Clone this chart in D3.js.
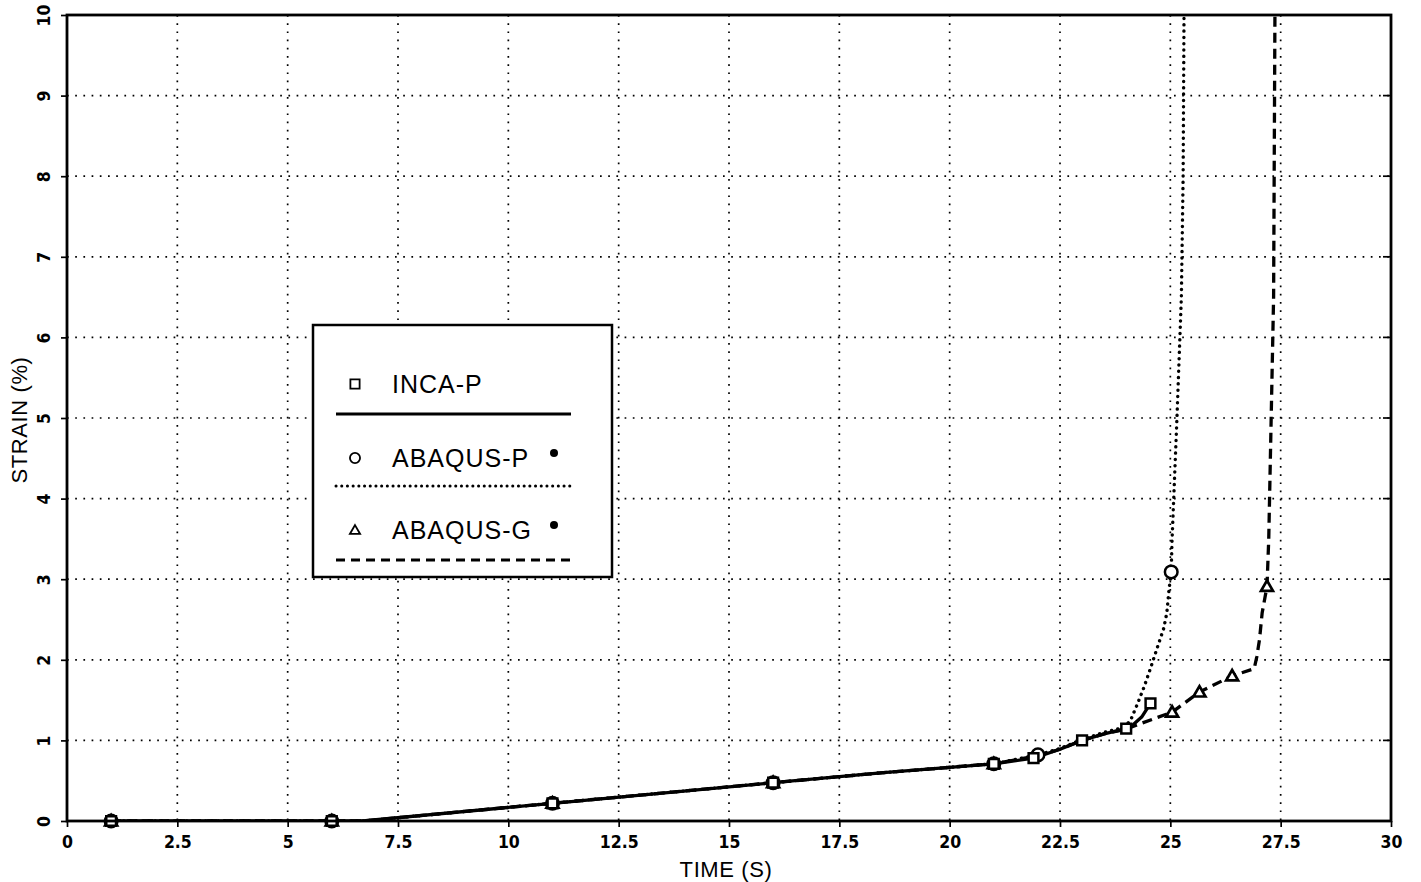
<!DOCTYPE html>
<html>
<head>
<meta charset="utf-8">
<script src="https://cdn.jsdelivr.net/npm/d3@7/dist/d3.min.js"></script>
<style>
  html, body { margin: 0; padding: 0; background: #fff; }
  svg { display: block; }
  .tick-label { font-family: 'Liberation Sans Narrow', 'DejaVu Sans Condensed', 'Roboto Condensed', sans-serif; font-weight: bold; font-size: 17.5px; fill: #000; }
  .axis-title { font-family: 'Liberation Sans', Arial, Helvetica, sans-serif; font-size: 22px; fill: #000; letter-spacing: 0.6px; }
  .legend-text { font-family: 'Liberation Sans', Arial, Helvetica, sans-serif; font-size: 25px; fill: #000; letter-spacing: 1px; }
</style>
</head>
<body>
<svg id="chart" width="1421" height="882"></svg>
<script>
// ---- axis ticks ----
const timeTicks = [0, 2.5, 5, 7.5, 10, 12.5, 15, 17.5, 20, 22.5, 25, 27.5, 30];
const strainTicks = [0, 1, 2, 3, 4, 5, 6, 7, 8, 9, 10];

// ---- INCA-P (squares, solid line) ----
const incaTime   = [1, 6, 11, 16, 21, 21.9, 23, 24, 24.55];
const incaStrain = [0, 0, 0.22, 0.475, 0.71, 0.78, 1.0, 1.145, 1.46];
const incaCurveTime   = [1, 6, 6.7, 11, 16, 18.5, 21, 21.9, 22.5, 23, 23.5, 23.95, 24.15, 24.35, 24.55];
const incaCurveStrain = [0, 0, 0, 0.22, 0.475, 0.6, 0.71, 0.78, 0.89, 1.0, 1.08, 1.14, 1.19, 1.29, 1.46];

// ---- ABAQUS-P (circles, dotted line) ----
const abqPTime   = [1, 6, 11, 16, 21, 22, 25.02];
const abqPStrain = [0, 0, 0.22, 0.475, 0.71, 0.82, 3.09];
const abqPCurveTime   = [1, 6, 6.7, 11, 16, 18.5, 21, 22, 22.5, 23, 23.5, 23.95, 24.1, 24.26, 24.41, 24.56, 24.71, 24.85, 24.92, 24.97, 25.02, 25.04, 25.15, 25.25, 25.29, 25.31];
const abqPCurveStrain = [0, 0, 0, 0.22, 0.475, 0.6, 0.71, 0.82, 0.9, 1.01, 1.1, 1.16, 1.25, 1.46, 1.67, 1.91, 2.16, 2.39, 2.58, 2.87, 3.09, 3.5, 5.0, 6.5, 8.0, 10];

// ---- ABAQUS-G (triangles, dashed line) ----
const abqGTime   = [1, 6, 11, 16, 21, 25.04, 25.66, 26.4, 27.19];
const abqGStrain = [0, 0, 0.22, 0.475, 0.71, 1.35, 1.60, 1.80, 2.91];
const abqGCurveTime   = [1, 6, 6.7, 11, 16, 18.5, 21, 22, 22.5, 23, 23.5, 24, 24.33, 25.04, 25.66, 26.4, 26.9, 26.96, 27.02, 27.08, 27.19, 27.23, 27.34, 27.37];
const abqGCurveStrain = [0, 0, 0, 0.22, 0.475, 0.6, 0.71, 0.81, 0.89, 1.0, 1.08, 1.14, 1.21, 1.35, 1.60, 1.80, 1.89, 2.04, 2.25, 2.58, 2.91, 3.5, 6.5, 10];

const legendLabels = ["INCA-P", "ABAQUS-P", "ABAQUS-G"];

// ---- layout ----
const margin = { left: 67, top: 15, right: 30, bottom: 61 };
const W = 1421, H = 882;
const iw = W - margin.left - margin.right;
const ih = H - margin.top - margin.bottom;

const svg = d3.select("#chart");
const g = svg.append("g").attr("transform", `translate(${margin.left},${margin.top})`);

const x = d3.scaleLinear().domain([0, 30]).range([0, iw]);
const y = d3.scaleLinear().domain([0, 10]).range([ih, 0]);

// ---- dotted grid ----
g.append("g").selectAll("line").data(timeTicks.slice(1, -1)).join("line")
  .attr("x1", d => x(d)).attr("x2", d => x(d))
  .attr("y1", 0).attr("y2", ih)
  .attr("stroke", "#000").attr("stroke-width", 1.7)
  .attr("stroke-dasharray", "1.7,6.5");
g.append("g").selectAll("line").data(strainTicks.slice(1, -1)).join("line")
  .attr("x1", 0).attr("x2", iw)
  .attr("y1", d => y(d)).attr("y2", d => y(d))
  .attr("stroke", "#000").attr("stroke-width", 1.7)
  .attr("stroke-dasharray", "1.7,6.5");

// ---- curves ----
const zip = (a, b) => a.map((v, i) => [v, b[i]]);
const line = d3.line().x(d => x(d[0])).y(d => y(d[1])).curve(d3.curveLinear);

svg.append("defs").append("clipPath").attr("id", "plotClip")
  .append("rect").attr("x", 0).attr("y", -2).attr("width", iw).attr("height", ih + 2);

const curves = g.append("g").attr("clip-path", "url(#plotClip)")
  .attr("stroke-linejoin", "round");
curves.append("path").datum(zip(abqGCurveTime, abqGCurveStrain))
  .attr("d", line).attr("fill", "none").attr("stroke", "#000")
  .attr("stroke-width", 3.3).attr("stroke-dasharray", "10,6");
curves.append("path").datum(zip(abqPCurveTime, abqPCurveStrain))
  .attr("d", line).attr("fill", "none").attr("stroke", "#000")
  .attr("stroke-width", 3.4).attr("stroke-linecap", "round").attr("stroke-dasharray", "0.1,6.2");
curves.append("path").datum(zip(incaCurveTime, incaCurveStrain))
  .attr("d", line).attr("fill", "none").attr("stroke", "#000")
  .attr("stroke-width", 3.3);

// ---- markers ----
const sq = d3.symbol().type(d3.symbolSquare).size(95);
const ci = d3.symbol().type(d3.symbolCircle).size(125);
const tr = d3.symbol().type(d3.symbolTriangle).size(62);

const marks = g.append("g");
marks.selectAll("path.tri").data(zip(abqGTime, abqGStrain)).join("path")
  .attr("class", "tri")
  .attr("d", tr).attr("transform", d => `translate(${x(d[0])},${y(d[1]) + 1})`)
  .attr("fill", "#fff").attr("stroke", "#000").attr("stroke-width", 2.7);
marks.selectAll("path.cir").data(zip(abqPTime, abqPStrain)).join("path")
  .attr("class", "cir")
  .attr("d", ci).attr("transform", d => `translate(${x(d[0])},${y(d[1])})`)
  .attr("fill", "#fff").attr("stroke", "#000").attr("stroke-width", 2.5);
marks.selectAll("path.sq").data(zip(incaTime, incaStrain)).join("path")
  .attr("class", "sq")
  .attr("d", sq).attr("transform", d => `translate(${x(d[0])},${y(d[1])})`)
  .attr("fill", "#fff").attr("stroke", "#000").attr("stroke-width", 2.5);

// ---- frame ----
g.append("rect").attr("x", 0).attr("y", 0).attr("width", iw).attr("height", ih)
  .attr("fill", "none").attr("stroke", "#000").attr("stroke-width", 2.8);

// ---- axes ----
const xAxis = g.append("g").attr("transform", `translate(0,${ih})`)
  .call(d3.axisBottom(x).tickValues(timeTicks).tickSize(6).tickPadding(8).tickFormat(d => String(d)));
xAxis.select(".domain").remove();
xAxis.selectAll("line").attr("stroke", "#000").attr("stroke-width", 1.7);
xAxis.selectAll("text").attr("class", "tick-label").attr("dy", null).attr("y", 27);

const yAxis = g.append("g")
  .call(d3.axisLeft(y).tickValues(strainTicks).tickSize(6).tickFormat(d => String(d)));
yAxis.select(".domain").remove();
yAxis.selectAll("line").attr("stroke", "#000").attr("stroke-width", 1.7);
yAxis.selectAll("text").attr("class", "tick-label")
  .attr("x", null).attr("dy", null).attr("text-anchor", "middle")
  .attr("transform", "translate(-17,0) rotate(-90)");

// inward ticks on the right edge
g.append("g").selectAll("line").data(strainTicks).join("line")
  .attr("x1", iw - 8).attr("x2", iw)
  .attr("y1", d => y(d)).attr("y2", d => y(d))
  .attr("stroke", "#000").attr("stroke-width", 1.7);

// ---- axis titles ----
svg.append("text").attr("class", "axis-title")
  .attr("x", margin.left + x(15) - 3).attr("y", 877)
  .attr("text-anchor", "middle").text("TIME (S)");
svg.append("text").attr("class", "axis-title")
  .attr("transform", `translate(27,${margin.top + y(5) + 2}) rotate(-90)`)
  .attr("text-anchor", "middle").text("STRAIN (%)");

// ---- legend ----
const lg = svg.append("g").attr("transform", "translate(313,325)");
lg.append("rect").attr("x", 0).attr("y", 0).attr("width", 299).attr("height", 252)
  .attr("fill", "#fff").attr("stroke", "#000").attr("stroke-width", 2.5);

const rowY = [59, 133, 205];
const sampleY = [89, 161, 235];
const legendSymbols = [
  d3.symbol().type(d3.symbolSquare).size(85),
  d3.symbol().type(d3.symbolCircle).size(80),
  d3.symbol().type(d3.symbolTriangle).size(45)
];
const legendDash = [null, "0.1,5.6", "9,6"];
const starred = [false, true, true];

legendLabels.forEach((label, i) => {
  lg.append("path").attr("d", legendSymbols[i])
    .attr("transform", `translate(42,${rowY[i] + (i === 2 ? 1 : 0)})`)
    .attr("fill", "#fff").attr("stroke", "#000").attr("stroke-width", 1.8);
  lg.append("text").attr("class", "legend-text")
    .attr("x", 79).attr("y", rowY[i] + 9).text(label);
  if (starred[i]) {
    lg.append("circle").attr("cx", 241).attr("cy", rowY[i] - 5).attr("r", 4).attr("fill", "#000");
  }
  const s = lg.append("line").attr("x1", 23).attr("x2", 258)
    .attr("y1", sampleY[i]).attr("y2", sampleY[i])
    .attr("stroke", "#000").attr("stroke-width", i === 0 ? 3.2 : 3);
  if (legendDash[i]) {
    s.attr("stroke-dasharray", legendDash[i]);
    if (i === 1) s.attr("stroke-linecap", "round");
  }
});
</script>
</body>
</html>
